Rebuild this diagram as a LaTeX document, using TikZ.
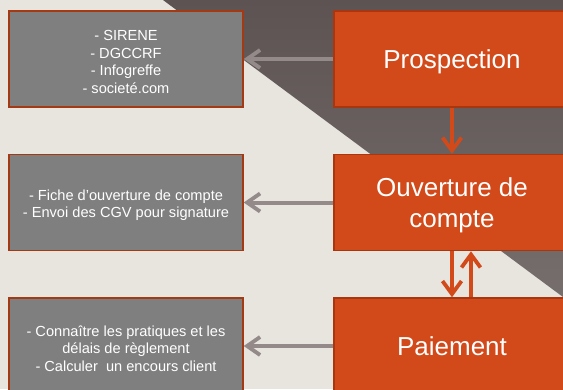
\documentclass[tikz,border=0pt]{standalone}
\usepackage{fontspec}
\setmainfont{Liberation Sans}
\usetikzlibrary{arrows.meta}
\definecolor{bgc}{HTML}{E8E4DE}
\definecolor{darkA}{HTML}{5C5352}
\definecolor{darkB}{HTML}{766E6D}
\definecolor{orangefill}{HTML}{D2491A}
\definecolor{orangeline}{HTML}{A9360F}
\definecolor{grayfill}{HTML}{7F7F7F}
\definecolor{grayline}{HTML}{A33A13}
\definecolor{grayarrow}{HTML}{938A89}
\newcommand\firstlinestrut{\rule{0pt}{16pt}}
\tikzset{
  infobox/.style={draw=grayline, fill=grayfill, line width=1.5pt, minimum width=234pt, minimum height=96pt, inner sep=0pt, align=center, text=white, font=\fontsize{14.6}{17.7}\selectfont},
  stagebox/.style={draw=orangeline, fill=orangefill, line width=1.5pt, minimum width=236pt, minimum height=96pt, inner sep=0pt, align=center, text=white, text depth=0pt, font=\fontsize{26}{31.5}\selectfont},
  grayarr/.style={draw=grayarrow, line width=4pt, -{Straight Barb[length=13pt,width=18pt,line width=3.8pt]}},
  orangearr/.style={draw=orangefill, line width=4pt, -{Straight Barb[length=13pt,width=19pt,line width=3.8pt]}}
}
\begin{document}
\begin{tikzpicture}[x=1pt,y=-1pt]
\useasboundingbox (0,0) rectangle (563,389);
\clip (0,0) rectangle (563,389);
\fill[bgc] (0,0) rectangle (563,389);
\shade[top color=darkA, bottom color=darkB] (163,0) -- (563,0) -- (563,297) -- cycle;

\node[infobox] (g1) at (126,59) {\firstlinestrut- SIRENE\\- DGCCRF\\- Infogreffe\\- societé.com};
\node[infobox] (g2) at (126,202.5) {\firstlinestrut- Fiche d’ouverture de compte\\- Envoi des CGV pour signature};
\node[infobox] (g3) at (126,346) {\firstlinestrut- Connaître les pratiques et les\\délais de règlement\\- Calculer\ \ un encours client};

\node[stagebox] (p1) at (452,59) {Prospection};
\node[stagebox] (p2) at (452,202.5) {Ouverture de\\compte};
\node[stagebox] (p3) at (452,346) {Paiement};

\draw[grayarr] (p1.west) -- (g1.east);
\draw[grayarr] (p2.west) -- (g2.east);
\draw[grayarr] (p3.west) -- (g3.east);

\draw[orangearr] (p1.south) -- (p2.north);
\draw[orangearr] (p2.south) -- (p3.north);
\draw[orangearr] ([xshift=19pt]p3.north) -- ([xshift=19pt]p2.south);
\end{tikzpicture}
\end{document}
